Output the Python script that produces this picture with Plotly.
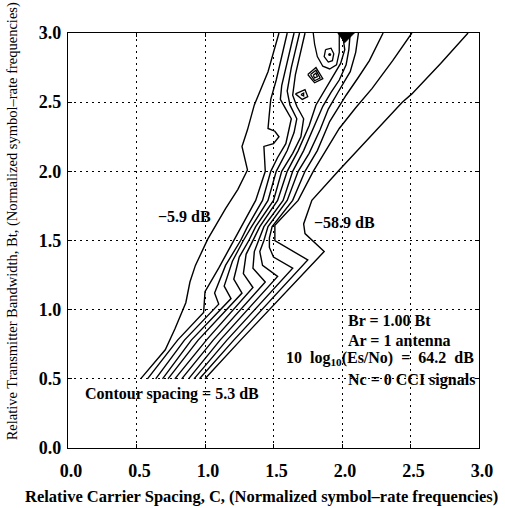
import plotly.graph_objects as go

# ---------------- data ----------------
# contour levels (dB), spacing 5.3 dB, from -5.9 (left) to -58.9 (right)
LEVELS_DB = [-5.9, -11.2, -16.5, -21.8, -27.1, -32.4, -37.7, -43.0, -48.3, -53.6, -58.9]

# each contour line: relative carrier spacing C and transmitter bandwidth Bt
C_L0 = [0.53, 0.60, 0.66, 0.71, 0.78, 0.86, 0.89, 0.93, 1.02, 1.09, 1.15, 1.24, 1.31, 1.27, 1.31, 1.36, 1.42, 1.46, 1.54]
BT_L0 = [0.50, 0.58, 0.65, 0.71, 0.86, 1.05, 1.20, 1.32, 1.51, 1.63, 1.73, 1.87, 2.01, 2.18, 2.30, 2.48, 2.62, 2.72, 3.00]

C_L1 = [0.58, 0.80, 0.99, 1.00, 1.10, 1.21, 1.27, 1.37, 1.44, 1.43, 1.50, 1.54, 1.51, 1.46, 1.47, 1.48, 1.52, 1.56, 1.60]
BT_L1 = [0.50, 0.78, 0.98, 1.13, 1.30, 1.50, 1.60, 1.79, 2.00, 2.18, 2.20, 2.25, 2.29, 2.31, 2.42, 2.52, 2.66, 2.82, 3.00]

C_L2 = [0.64, 0.85, 1.10, 1.07, 1.15, 1.26, 1.31, 1.42, 1.48, 1.53, 1.59, 1.61, 1.63, 1.59, 1.55, 1.56, 1.60, 1.65]
BT_L2 = [0.50, 0.78, 1.04, 1.12, 1.32, 1.50, 1.60, 1.79, 2.00, 2.10, 2.20, 2.30, 2.38, 2.45, 2.52, 2.62, 2.80, 3.00]

C_L3 = [0.69, 0.90, 1.19, 1.14, 1.20, 1.28, 1.34, 1.46, 1.52, 1.60, 1.65, 1.67, 1.62, 1.60, 1.63, 1.69]
BT_L3 = [0.50, 0.78, 1.08, 1.17, 1.35, 1.50, 1.60, 1.79, 2.00, 2.15, 2.28, 2.38, 2.48, 2.58, 2.75, 3.00]

C_L4 = [0.73, 0.95, 1.27, 1.21, 1.25, 1.32, 1.37, 1.50, 1.56, 1.64, 1.70, 1.72, 1.67, 1.64, 1.66, 1.73]
BT_L4 = [0.50, 0.78, 1.12, 1.22, 1.38, 1.50, 1.60, 1.79, 2.00, 2.13, 2.25, 2.38, 2.47, 2.55, 2.70, 3.00]

C_L5 = [0.78, 1.01, 1.35, 1.28, 1.30, 1.35, 1.40, 1.53, 1.60, 1.68, 1.76, 1.81, 1.87, 1.93, 1.99, 2.02, 2.01]
BT_L5 = [0.50, 0.78, 1.16, 1.26, 1.40, 1.50, 1.60, 1.79, 2.00, 2.15, 2.33, 2.48, 2.58, 2.67, 2.78, 2.88, 2.95]

C_L6 = [0.83, 1.06, 1.44, 1.35, 1.36, 1.39, 1.43, 1.57, 1.64, 1.72, 1.80, 1.86, 1.92, 1.98, 2.03, 2.05, 2.06]
BT_L6 = [0.50, 0.78, 1.20, 1.30, 1.42, 1.50, 1.60, 1.79, 2.00, 2.15, 2.33, 2.47, 2.57, 2.66, 2.77, 2.88, 3.00]

C_L7 = [0.88, 1.11, 1.53, 1.42, 1.40, 1.43, 1.46, 1.60, 1.68, 1.76, 1.84, 1.90, 1.97, 2.06, 2.10, 2.12]
BT_L7 = [0.50, 0.78, 1.24, 1.32, 1.42, 1.50, 1.60, 1.79, 2.00, 2.13, 2.30, 2.45, 2.57, 2.72, 2.86, 3.00]

C_L8 = [0.92, 1.16, 1.64, 1.50, 1.47, 1.47, 1.49, 1.64, 1.73, 1.82, 1.91, 2.03, 2.12, 2.20, 2.30]
BT_L8 = [0.50, 0.78, 1.30, 1.38, 1.45, 1.52, 1.60, 1.79, 2.00, 2.15, 2.36, 2.55, 2.68, 2.80, 3.00]

C_L9 = [0.96, 1.21, 1.75, 1.60, 1.51, 1.51, 1.68, 1.79, 1.85, 1.98, 2.10, 2.22, 2.37, 2.51]
BT_L9 = [0.50, 0.78, 1.36, 1.45, 1.50, 1.61, 1.79, 2.00, 2.10, 2.31, 2.46, 2.60, 2.80, 3.00]

C_L10 = [1.00, 1.26, 1.87, 1.73, 1.72, 1.78, 1.98, 2.24, 2.44, 2.51, 2.72, 2.92]
BT_L10 = [0.50, 0.78, 1.42, 1.55, 1.62, 1.79, 2.01, 2.29, 2.50, 2.56, 2.78, 3.00]

# small closed contours near the top
C_U = [1.79, 1.80, 1.82, 1.86, 1.91, 1.96, 1.98, 1.98]
BT_U = [3.00, 2.92, 2.83, 2.76, 2.74, 2.77, 2.86, 3.00]

C_LOOP_A = [1.66, 1.73, 1.75, 1.71, 1.66]
BT_LOOP_A = [2.56, 2.59, 2.54, 2.52, 2.56]
C_LOOP_A_IN = [1.70, 1.72, 1.72, 1.70]
BT_LOOP_A_IN = [2.555, 2.565, 2.545, 2.555]

C_LOOP_B = [1.75, 1.81, 1.86, 1.80, 1.75]
BT_LOOP_B = [2.70, 2.75, 2.67, 2.64, 2.70]
C_LOOP_B_MID = [1.77, 1.81, 1.84, 1.80, 1.77]
BT_LOOP_B_MID = [2.70, 2.73, 2.675, 2.655, 2.70]
C_LOOP_B_IN = [1.79, 1.81, 1.82, 1.80, 1.79]
BT_LOOP_B_IN = [2.695, 2.71, 2.685, 2.675, 2.695]

C_LOOP_C = [1.88, 1.92, 1.94, 1.93, 1.90, 1.87, 1.88]
BT_LOOP_C = [2.88, 2.89, 2.85, 2.80, 2.79, 2.83, 2.88]
C_LOOP_C_DOT = [1.91]
BT_LOOP_C_DOT = [2.845]

C_PEAK = [1.97, 2.09, 2.02, 1.97]
BT_PEAK = [3.00, 3.00, 2.93, 3.00]

TICK_VALS = [0.0, 0.5, 1.0, 1.5, 2.0, 2.5, 3.0]
TICK_TEXT = ["0.0", "0.5", "1.0", "1.5", "2.0", "2.5", "3.0"]

X_TITLE = "Relative Carrier Spacing, C, (Normalized symbol\u2013rate frequencies)"
Y_TITLE = "Relative Transmitter Bandwidth, Bt, (Normalized symbol\u2013rate frequencies)"

# ---------------- figure ----------------
FONT = "Liberation Serif, Times New Roman, serif"
fig = go.Figure()

lines = [
    (C_L0, BT_L0), (C_L1, BT_L1), (C_L2, BT_L2), (C_L3, BT_L3), (C_L4, BT_L4),
    (C_L5, BT_L5), (C_L6, BT_L6), (C_L7, BT_L7), (C_L8, BT_L8), (C_L9, BT_L9),
    (C_L10, BT_L10),
]
for (cx, by), lev in zip(lines, LEVELS_DB):
    fig.add_trace(go.Scatter(x=cx, y=by, mode="lines", name=f"{lev} dB",
                             line=dict(color="black", width=1.4),
                             showlegend=False, hoverinfo="skip"))

for cx, by in [(C_U, BT_U), (C_LOOP_A, BT_LOOP_A), (C_LOOP_A_IN, BT_LOOP_A_IN),
               (C_LOOP_B, BT_LOOP_B), (C_LOOP_B_MID, BT_LOOP_B_MID),
               (C_LOOP_B_IN, BT_LOOP_B_IN), (C_LOOP_C, BT_LOOP_C)]:
    fig.add_trace(go.Scatter(x=cx, y=by, mode="lines",
                             line=dict(color="black", width=1.3),
                             showlegend=False, hoverinfo="skip"))

fig.add_trace(go.Scatter(x=C_LOOP_C_DOT, y=BT_LOOP_C_DOT, mode="markers",
                         marker=dict(color="black", size=3),
                         showlegend=False, hoverinfo="skip"))
fig.add_trace(go.Scatter(x=C_PEAK, y=BT_PEAK, mode="lines", fill="toself",
                         fillcolor="black", line=dict(color="black", width=1),
                         showlegend=False, hoverinfo="skip"))

axis_common = dict(
    range=[0, 3], tickvals=TICK_VALS, ticktext=TICK_TEXT,
    showline=True, linecolor="black", linewidth=1.3, mirror="ticks",
    ticks="inside", ticklen=4, tickcolor="black",
    showgrid=True, gridcolor="black", gridwidth=1, griddash="2px,4px",
    zeroline=False,
    tickfont=dict(family=FONT, size=18, color="black", weight="bold"),
)
fig.update_xaxes(**axis_common, ticklabelstandoff=6, ticklabelshift=3)
fig.update_yaxes(**axis_common, ticklabelstandoff=2)

txt_font = dict(family=FONT, size=16, color="black", weight="bold")
annos = [
    dict(x=0.85, y=1.67, text="\u22125.9 dB", xanchor="center"),
    dict(x=2.02, y=1.63, text="\u221258.9 dB", xanchor="center"),
    dict(x=0.11, y=0.39, text="Contour spacing = 5.3 dB", xanchor="left"),
    dict(x=2.03, y=0.92, text="Br = 1.00 Bt", xanchor="left"),
    dict(x=2.03, y=0.78, text="Ar = 1 antenna", xanchor="left"),
    dict(x=1.58, y=0.65, text="10\u00a0 log<sub>10</sub>(Es/No) \u00a0=\u00a0 64.2 \u00a0dB", xanchor="left"),
    dict(x=2.03, y=0.49, text="Nc = 0 CCI signals", xanchor="left"),
]
for a in annos:
    fig.add_annotation(xref="x", yref="y", showarrow=False, yanchor="middle",
                       font=txt_font, **a)

fig.add_annotation(xref="paper", yref="paper", x=0.47, y=-0.118,
                   text=X_TITLE, showarrow=False, xanchor="center", yanchor="middle",
                   font=dict(family=FONT, size=16.5, color="black", weight="bold"))
fig.add_annotation(xref="paper", yref="paper", x=-0.135, y=0.545,
                   text=Y_TITLE, showarrow=False, textangle=-90,
                   xanchor="center", yanchor="middle",
                   font=dict(family=FONT, size=14.5, color="black"))

fig.update_layout(
    width=505, height=508,
    margin=dict(l=68, r=20, t=33, b=60),
    paper_bgcolor="white", plot_bgcolor="white",
    showlegend=False,
)

fig.write_html(
    "out.html",
    config={"displayModeBar": False},
    post_script="document.body.style.margin='0px';document.body.style.overflow='hidden';",
)
